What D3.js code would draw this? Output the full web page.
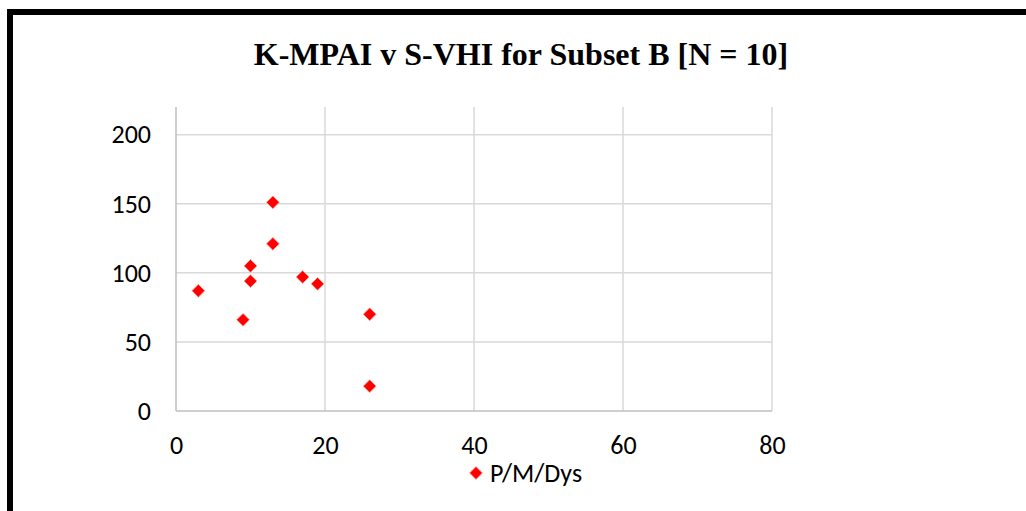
<!DOCTYPE html>
<html>
<head>
<meta charset="utf-8">
<script src="https://cdn.jsdelivr.net/npm/d3@7"></script>
<style>
  html, body { margin: 0; padding: 0; background: #fff; }
  svg { display: block; }
</style>
</head>
<body>
<svg id="chart" width="1026" height="511"></svg>
<script>
// K-MPAI (x) against S-VHI (y) for the ten Subset B cases
const kmpai = [3, 9, 10, 10, 13, 13, 17, 19, 26, 26];
const svhi  = [87, 66, 105, 94, 151, 121, 97, 92, 70, 18];
const xTicks = [0, 20, 40, 60, 80];
const yTicks = [0, 50, 100, 150, 200];
const seriesName = "P/M/Dys";
const title = "K-MPAI v S-VHI for Subset B [N = 10]";

const svg = d3.select("#chart");
const W = 1026, H = 511;
const plot = { left: 176, right: 772, top: 107, bottom: 411 };

// outer frame (only its top and left edges fall inside the view)
svg.append("rect")
  .attr("x", 10).attr("y", 12)
  .attr("width", W + 20).attr("height", H + 20)
  .attr("fill", "none").attr("stroke", "#000").attr("stroke-width", 6);

svg.append("text")
  .attr("x", 521).attr("y", 65)
  .attr("text-anchor", "middle")
  .attr("font-family", "'Times New Roman', 'Liberation Serif', serif")
  .attr("font-weight", "bold")
  .attr("font-size", 32)
  .attr("fill", "#000")
  .text(title);

const x = d3.scaleLinear().domain([0, 80]).range([plot.left, plot.right]);
const y = d3.scaleLinear().domain([0, 220]).range([plot.bottom, plot.top]);

const grid = svg.append("g").attr("stroke", "#d9d9d9").attr("stroke-width", 1.5);
grid.selectAll("line.h").data(yTicks.filter(d => d > 0)).join("line")
  .attr("x1", plot.left).attr("x2", plot.right)
  .attr("y1", d => y(d)).attr("y2", d => y(d));
grid.selectAll("line.v").data(xTicks.filter(d => d > 0)).join("line")
  .attr("y1", plot.top).attr("y2", plot.bottom)
  .attr("x1", d => x(d)).attr("x2", d => x(d));

// axis lines
svg.append("line").attr("x1", plot.left).attr("x2", plot.left)
  .attr("y1", plot.top).attr("y2", plot.bottom)
  .attr("stroke", "#bfbfbf").attr("stroke-width", 1.5);
svg.append("line").attr("x1", plot.left).attr("x2", plot.right)
  .attr("y1", plot.bottom).attr("y2", plot.bottom)
  .attr("stroke", "#bfbfbf").attr("stroke-width", 1.5);

const labelFont = "Calibri, Carlito, Lato, sans-serif";
const labelSize = 26;

const yAxis = d3.axisLeft(y).tickValues(yTicks).tickSize(0).tickPadding(25);
svg.append("g").attr("transform", `translate(${plot.left},0)`).call(yAxis)
  .call(g => g.select(".domain").remove())
  .selectAll("text")
  .attr("font-family", labelFont).attr("font-size", labelSize).attr("fill", "#000");

const xAxis = d3.axisBottom(x).tickValues(xTicks).tickSize(0).tickPadding(25);
svg.append("g").attr("transform", `translate(0,${plot.bottom})`).call(xAxis)
  .call(g => g.select(".domain").remove())
  .selectAll("text")
  .attr("font-family", labelFont).attr("font-size", labelSize).attr("fill", "#000");

const diamond = d3.symbol().type(d3.symbolDiamond2).size(105);
svg.append("g").selectAll("path").data(kmpai.map((v, i) => [v, svhi[i]])).join("path")
  .attr("d", diamond)
  .attr("transform", d => `translate(${x(d[0])},${y(d[1])})`)
  .attr("fill", "#ff0000")
  .attr("stroke", "#ffa090").attr("stroke-width", 0.8);

// legend
const lg = svg.append("g").attr("transform", "translate(476,473)");
lg.append("path").attr("d", diamond)
  .attr("fill", "#ff0000").attr("stroke", "#ffa090").attr("stroke-width", 0.8);
lg.append("text").attr("x", 14).attr("y", 0).attr("dy", "0.35em")
  .attr("font-family", labelFont).attr("font-size", labelSize).attr("fill", "#000")
  .text(seriesName);
</script>
</body>
</html>
